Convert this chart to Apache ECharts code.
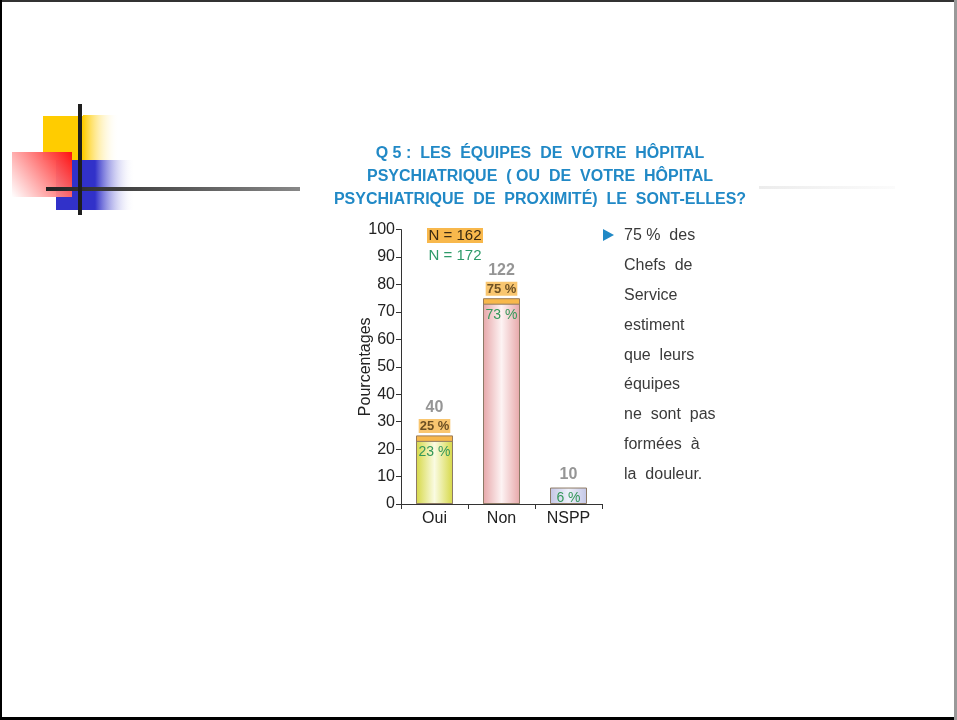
<!DOCTYPE html>
<html>
<head>
<meta charset="utf-8">
<script src="https://cdn.jsdelivr.net/npm/echarts@6/dist/echarts.min.js"></script>
<style>
  html, body { margin: 0; padding: 0; background: #fff; }
  #chart { width: 957px; height: 720px; }
</style>
</head>
<body>
<div id="chart"></div>
<script>
// Answers to question 5, as percentages of each survey wave
const categories = ['Oui', 'Non', 'NSPP'];
const shareN162 = [25, 75, null];   // first wave, N = 162
const shareN172 = [23, 73, 6];      // second wave, N = 172
const counts = [40, 122, 10];       // number of answers
const yTicks = { min: 0, max: 100, step: 10 };

const titleLines = [
  'Q 5 :  LES  ÉQUIPES  DE  VOTRE  HÔPITAL',
  'PSYCHIATRIQUE  ( OU  DE  VOTRE  HÔPITAL',
  'PSYCHIATRIQUE  DE  PROXIMITÉ)  LE  SONT-ELLES?'
];
const noteLines = [
  '75 %  des', 'Chefs  de', 'Service', 'estiment', 'que  leurs',
  'équipes', 'ne  sont  pas', 'formées  à', 'la  douleur.'
];
const legendN162 = 'N = 162';
const legendN172 = 'N = 172';

const BLUE = '#2189c6';
const ORANGE = '#f8b84c';
const GREEN_TXT = '#35985a';
const SANS = '"Liberation Sans", Arial, sans-serif';

function hGrad(edge, mid) {
  return new echarts.graphic.LinearGradient(0, 0, 1, 0, [
    { offset: 0, color: edge }, { offset: 0.5, color: mid }, { offset: 1, color: edge }
  ]);
}
const barFills = [
  hGrad('#d6d846', '#fafbe2'),
  hGrad('#e7a7a9', '#fdf3f3'),
  hGrad('#c3c6e6', '#eef0fa')
];

// top of the tallest bar for each category, used to place the count labels
const tops = categories.map((_, i) => Math.max(shareN162[i] == null ? 0 : shareN162[i], shareN172[i]));

const chart = echarts.init(document.getElementById('chart'), null, { renderer: 'canvas' });

const graphics = [];
// slide frame
graphics.push(
  { type: 'rect', shape: { x: 0, y: 0, width: 957, height: 2 }, style: { fill: '#333' }, silent: true },
  { type: 'rect', shape: { x: 0, y: 0, width: 2, height: 720 }, style: { fill: '#000' }, silent: true },
  { type: 'rect', shape: { x: 0, y: 717, width: 957, height: 3 }, style: { fill: '#000' }, silent: true },
  { type: 'rect', shape: { x: 954, y: 0, width: 3, height: 720 }, style: { fill: '#999' }, silent: true }
);
// corner ornament: coloured blocks and crossing rules
graphics.push(
  { type: 'rect', shape: { x: 43, y: 116, width: 40, height: 44 }, style: { fill: '#ffcc00' }, silent: true },
  { type: 'rect', shape: { x: 83, y: 115, width: 36, height: 45 }, silent: true,
    style: { fill: new echarts.graphic.LinearGradient(0, 0, 1, 0, [{ offset: 0, color: '#ffcc00' }, { offset: 1, color: 'rgba(255,255,255,0)' }]) } },
  { type: 'rect', shape: { x: 56, y: 160, width: 39, height: 50 }, style: { fill: '#3131c9' }, silent: true },
  { type: 'rect', shape: { x: 95, y: 160, width: 40, height: 50 }, silent: true,
    style: { fill: new echarts.graphic.LinearGradient(0, 0, 1, 0, [{ offset: 0, color: '#3131c9' }, { offset: 1, color: 'rgba(255,255,255,0)' }]) } },
  { type: 'rect', shape: { x: 12, y: 152, width: 60, height: 45 }, silent: true,
    style: { fill: new echarts.graphic.LinearGradient(1, 0, 0, 1, [{ offset: 0, color: '#ff1010' }, { offset: 1, color: 'rgba(255,255,255,0.9)' }]) } },
  { type: 'rect', shape: { x: 46, y: 187, width: 254, height: 4 }, silent: true,
    style: { fill: new echarts.graphic.LinearGradient(0, 0, 1, 0, [{ offset: 0, color: '#222' }, { offset: 1, color: '#888' }]) } },
  { type: 'rect', shape: { x: 78, y: 104, width: 4, height: 111 }, style: { fill: '#1e1e1e' }, silent: true },
  { type: 'rect', shape: { x: 759, y: 186, width: 136, height: 3 }, silent: true,
    style: { fill: new echarts.graphic.LinearGradient(0, 0, 1, 0, [{ offset: 0, color: '#ececec' }, { offset: 1, color: '#fbfbfb' }]) } }
);
// title
titleLines.forEach((line, i) => {
  graphics.push({
    type: 'text', x: 540, y: 154 + i * 23, silent: true,
    style: { text: line, fill: BLUE, font: 'bold 16px ' + SANS, align: 'center', verticalAlign: 'middle' }
  });
});
// wave legend
graphics.push(
  { type: 'rect', shape: { x: 427, y: 228, width: 56, height: 15 }, style: { fill: ORANGE }, silent: true },
  { type: 'text', x: 455, y: 236, silent: true,
    style: { text: legendN162, fill: '#3b2a10', font: '15px ' + SANS, align: 'center', verticalAlign: 'middle' } },
  { type: 'text', x: 455, y: 256, silent: true,
    style: { text: legendN172, fill: '#2e9a6a', font: '15px ' + SANS, align: 'center', verticalAlign: 'middle' } }
);
// side note
graphics.push({ type: 'polygon', shape: { points: [[603, 229], [614, 235], [603, 241]] }, style: { fill: BLUE }, silent: true });
noteLines.forEach((line, i) => {
  graphics.push({
    type: 'text', x: 624, y: 236 + i * 29.8, silent: true,
    style: { text: line, fill: '#3a3a3a', font: '16px ' + SANS, align: 'left', verticalAlign: 'middle' }
  });
});

chart.setOption({
  animation: false,
  backgroundColor: '#fff',
  grid: { left: 401, right: 355, top: 229.6, bottom: 216, containLabel: false },
  xAxis: {
    type: 'category',
    data: categories,
    axisLine: { lineStyle: { color: '#333', width: 1 } },
    axisTick: { show: true, length: 5, lineStyle: { color: '#333' } },
    axisLabel: { color: '#222', fontSize: 16, fontFamily: SANS, margin: 7 }
  },
  yAxis: {
    type: 'value',
    min: yTicks.min, max: yTicks.max, interval: yTicks.step,
    name: 'Pourcentages',
    nameLocation: 'middle',
    nameGap: 27,
    nameMoveOverlap: false,
    nameTextStyle: { color: '#222', fontSize: 16, fontFamily: SANS },
    splitLine: { show: false },
    axisLine: { show: true, lineStyle: { color: '#333' } },
    axisTick: { show: true, length: 5, lineStyle: { color: '#333' } },
    axisLabel: { color: '#222', fontSize: 16, fontFamily: SANS, margin: 6 }
  },
  series: [
    {
      name: legendN162,
      type: 'bar',
      data: shareN162,
      barWidth: 37,
      barGap: '-100%',
      itemStyle: { color: ORANGE, borderColor: '#9b7a55', borderWidth: 1 },
      z: 2
    },
    {
      name: legendN172,
      type: 'bar',
      data: shareN172.map((v, i) => ({ value: v, itemStyle: { color: barFills[i] } })),
      barWidth: 37,
      barGap: '-100%',
      itemStyle: { borderColor: '#8d7a66', borderWidth: 1 },
      label: {
        show: true, position: 'insideTop', distance: 3,
        formatter: p => p.value + ' %',
        color: GREEN_TXT, fontSize: 14, fontFamily: SANS, lineHeight: 16
      },
      z: 3
    },
    {
      name: 'effectifs',
      type: 'scatter',
      data: tops,
      symbolSize: 0,
      itemStyle: { color: 'transparent' },
      label: {
        show: true, position: 'top', distance: 2,
        formatter: p => {
          const i = p.dataIndex;
          return shareN162[i] == null
            ? '{n|' + counts[i] + '}'
            : '{n|' + counts[i] + '}\n{p|' + shareN162[i] + ' %}';
        },
        rich: {
          n: { color: '#7a7a7a', fontSize: 16, fontWeight: 'bold', fontFamily: SANS, lineHeight: 22, align: 'center' },
          p: { color: '#4a3210', fontSize: 13, fontWeight: 'bold', fontFamily: SANS, lineHeight: 15,
               backgroundColor: ORANGE, padding: [1, 1, 0, 1], align: 'center' }
        }
      },
      z: 4
    }
  ],
  graphic: graphics
});
</script>
</body>
</html>
